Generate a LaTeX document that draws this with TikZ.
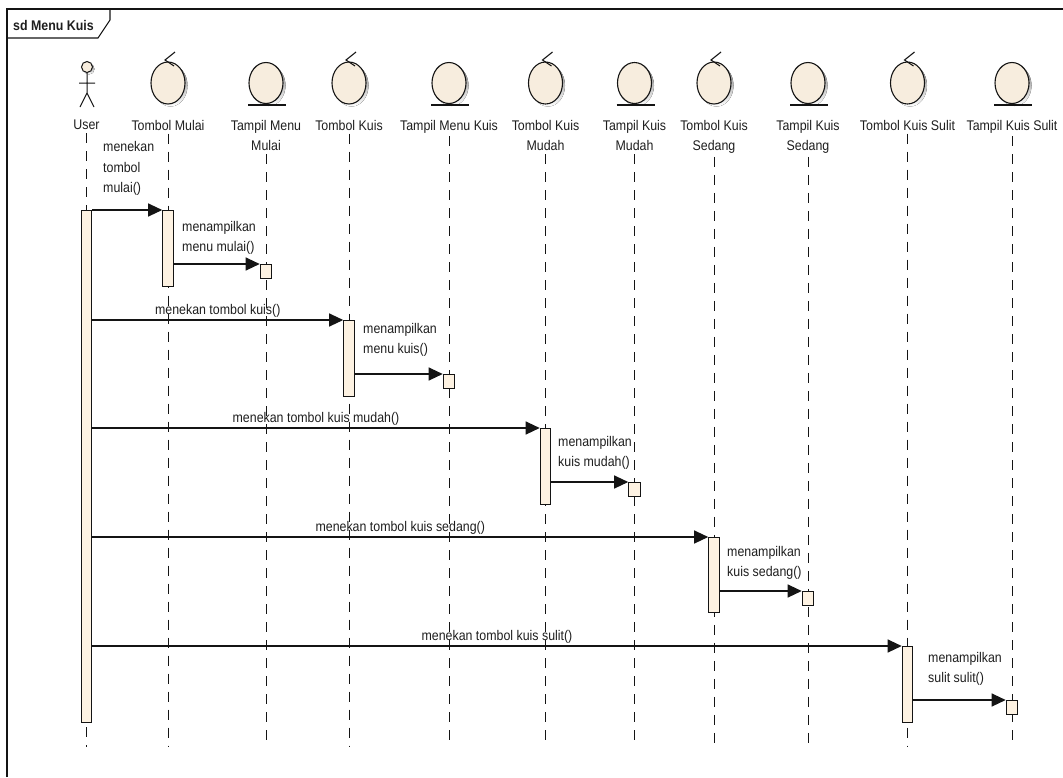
\documentclass[tikz,border=0pt]{standalone}
\usepackage{fontspec}
\setmainfont{Liberation Sans}[FakeStretch=0.885]
\usetikzlibrary{arrows.meta}
\definecolor{bodyfill}{RGB}{247,237,222}
\definecolor{actfill}{RGB}{253,242,226}
\definecolor{ink}{RGB}{20,20,20}
\definecolor{txt}{RGB}{30,30,30}
\definecolor{shade}{RGB}{190,190,190}

\begin{document}
\begin{tikzpicture}[x=1pt,y=-1pt,
  every node/.style={text=txt, font=\fontsize{14}{20.5}\selectfont},
  lbl/.style={anchor=north, inner sep=0pt, align=center},
  mlbl/.style={anchor=south west, inner sep=0pt, align=left},
  act/.style={draw=ink, line width=1.1pt, fill=actfill, minimum width=10.5pt,
    inner sep=0pt, anchor=north},
  retbox/.style={draw=ink, line width=1.1pt, fill=actfill, minimum width=11.5pt,
    minimum height=14pt, inner sep=0pt, anchor=north},
  msg/.style={draw=ink, line width=1.2pt, -{Triangle[length=14pt,width=13pt]}},
  lifeline/.style={draw=ink, line width=0.9pt, dash pattern=on 10pt off 8pt},
  control/.pic={
    \fill[shade] (2.5,2.5) ellipse [x radius=17pt, y radius=21pt];
    \draw[ink, line width=1.1pt, fill=bodyfill] (0,0) ellipse [x radius=17pt, y radius=21pt];
    \draw[ink, line width=1.1pt] (7,-31) -- (-3,-23) -- (6,-17);
  },
  entity/.pic={
    \fill[shade] (2.5,2.5) ellipse [x radius=17pt, y radius=20.5pt];
    \draw[ink, line width=1.1pt, fill=bodyfill] (0,0) ellipse [x radius=17pt, y radius=20.5pt];
    \draw[ink, line width=1.2pt] (-18,22) -- (20,22);
  }
]
\path[use as bounding box] (0,0) rectangle (1063,777);

% diagram frame and its title tab
\draw[ink, line width=1.2pt] (7,777) -- (7,9) -- (1063,9);
\draw[ink, line width=1.1pt] (7,38) -- (98,38) -- (110,20) -- (110,9);
\node[anchor=base west, inner sep=0pt, font=\fontsize{14}{16}\selectfont\bfseries] (title) at (13,30) {sd Menu Kuis};

% actor
\fill[shade] (89,69) circle[radius=5.5pt];
\draw[ink, line width=1pt, fill=bodyfill] (87,67) circle[radius=5.5pt];
\draw[ink, line width=1pt] (87,72.5) -- (87,93) (79,83) -- (95,83) (80,107) -- (87,93) -- (94,107);

% lifeline icons
\pic at (168,83) {control};
\pic at (266,83) {entity};
\pic at (349,83) {control};
\pic at (449,83) {entity};
\pic at (545.5,83) {control};
\pic at (634.5,83) {entity};
\pic at (714,83) {control};
\pic at (808,83) {entity};
\pic at (907.5,83) {control};
\pic at (1012,83) {entity};

% lifeline names
\node[lbl] (hU) at (86.5,120) {User};
\node[lbl] (hTM) at (168,120) {Tombol Mulai};
\node[lbl] (hTMM) at (266,120) {Tampil Menu\\Mulai};
\node[lbl] (hTK) at (349,120) {Tombol Kuis};
\node[lbl] (hTMK) at (449,120) {Tampil Menu Kuis};
\node[lbl] (hTKM) at (545.5,120) {Tombol Kuis\\Mudah};
\node[lbl] (hTPM) at (634.5,120) {Tampil Kuis\\Mudah};
\node[lbl] (hTKSd) at (714,120) {Tombol Kuis\\Sedang};
\node[lbl] (hTPSd) at (808,120) {Tampil Kuis\\Sedang};
\node[lbl] (hTKSl) at (907.5,120) {Tombol Kuis Sulit};
\node[lbl] (hTPSl) at (1012,120) {Tampil Kuis Sulit};

% lifelines
\coordinate (bottom) at (0,747);
\foreach \h in {hU,hTM,hTMM,hTK,hTMK,hTKM,hTPM,hTKSd,hTPSd,hTKSl,hTPSl}
  \draw[lifeline] ([yshift=-3pt]\h.south) -- (\h.south |- bottom);

% activations
\node[act, minimum height=512pt] (aU) at (86.5,210) {};
\node[act, minimum height=76pt] (aTM) at (168,210) {};
\node[act, minimum height=76pt] (aTK) at (349,320) {};
\node[act, minimum height=76pt] (aTKM) at (545.5,428) {};
\node[act, minimum height=75pt] (aTKSd) at (714,537) {};
\node[act, minimum height=76pt] (aTKSl) at (907.5,646) {};

% called executions
\node[retbox] (rTMM) at (266,264) {};
\node[retbox] (rTMK) at (449,374) {};
\node[retbox] (rTPM) at (634.5,482) {};
\node[retbox] (rTPSd) at (808,591) {};
\node[retbox] (rTPSl) at (1012,700) {};

% messages
\draw[msg] (aU.east |- aTM.north) -- (aTM.north west);
\node[mlbl] (l1) at (103,196) {menekan\\tombol\\mulai()};

\draw[msg] (aTM.east |- rTMM.north) -- (rTMM.north west);
\node[mlbl] (l2) at (182,255) {menampilkan\\menu mulai()};

\draw[msg] (aU.east |- aTK.north) -- node[anchor=base, yshift=6pt, inner sep=0pt] (l3) {menekan tombol kuis()} (aTK.north west);

\draw[msg] (aTK.east |- rTMK.north) -- (rTMK.north west);
\node[mlbl] (l4) at (363,357) {menampilkan\\menu kuis()};

\draw[msg] (aU.east |- aTKM.north) -- node[anchor=base, yshift=6pt, inner sep=0pt] (l5) {menekan tombol kuis mudah()} (aTKM.north west);

\draw[msg] (aTKM.east |- rTPM.north) -- (rTPM.north west);
\node[mlbl] (l6) at (558,470) {menampilkan\\kuis mudah()};

\draw[msg] (aU.east |- aTKSd.north) -- node[anchor=base, yshift=6pt, inner sep=0pt] (l7) {menekan tombol kuis sedang()} (aTKSd.north west);

\draw[msg] (aTKSd.east |- rTPSd.north) -- (rTPSd.north west);
\node[mlbl] (l8) at (727,580) {menampilkan\\kuis sedang()};

\draw[msg] (aU.east |- aTKSl.north) -- node[anchor=base, yshift=6pt, inner sep=0pt] (l9) {menekan tombol kuis sulit()} (aTKSl.north west);

\draw[msg] (aTKSl.east |- rTPSl.north) -- (rTPSl.north west);
\node[mlbl] (l10) at (928,686) {menampilkan\\sulit sulit()};
\end{tikzpicture}
\end{document}
